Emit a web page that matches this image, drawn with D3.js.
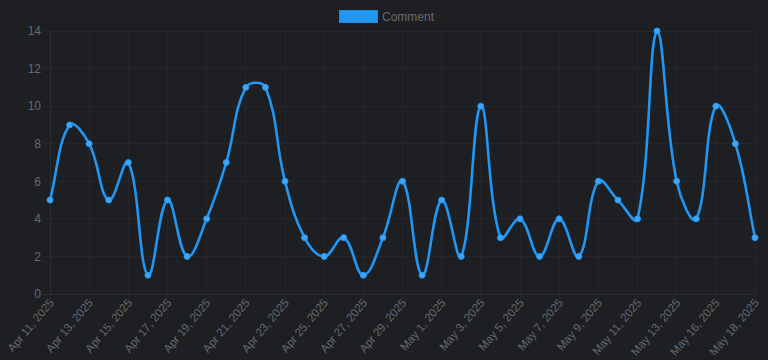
<!DOCTYPE html>
<html>
<head>
<meta charset="utf-8">
<script src="https://cdn.jsdelivr.net/npm/d3@7"></script>
<style>
html,body{margin:0;padding:0;background:#1d1f22;}
svg{display:block;}
text{font-family:"Liberation Sans",Arial,Helvetica,sans-serif;}
</style>
</head>
<body>
<svg id="chart" width="768" height="360"></svg>
<script>
const categories = ["Apr 11, 2025","Apr 12, 2025","Apr 13, 2025","Apr 14, 2025","Apr 15, 2025","Apr 16, 2025","Apr 17, 2025","Apr 18, 2025","Apr 19, 2025","Apr 20, 2025","Apr 21, 2025","Apr 22, 2025","Apr 23, 2025","Apr 24, 2025","Apr 25, 2025","Apr 26, 2025","Apr 27, 2025","Apr 28, 2025","Apr 29, 2025","Apr 30, 2025","May 1, 2025","May 2, 2025","May 3, 2025","May 4, 2025","May 5, 2025","May 6, 2025","May 7, 2025","May 8, 2025","May 9, 2025","May 10, 2025","May 11, 2025","May 12, 2025","May 13, 2025","May 14, 2025","May 16, 2025","May 17, 2025","May 18, 2025"];
const commentValues = [5,9,8,5,7,1,5,2,4,7,11,11,6,3,2,3,1,3,6,1,5,2,10,3,4,2,4,2,6,5,4,14,6,4,10,8,3];
const yTicks = [0,2,4,6,8,10,12,14];
const seriesName = "Comment";

const svg = d3.select("#chart");
const W = 768, H = 360;
const m = {left:50, right:13, top:31, bottom:66};
const x = d3.scalePoint().domain(categories).range([m.left, W - m.right]);
const y = d3.scaleLinear().domain([0,14]).range([H - m.bottom, m.top]);

const gridColor = "#24262a";
const textColor = "#666a70";
const lineColor = "#2196f3";

const shownCats = categories.filter((c,i) => i % 2 === 0);

// grid
const g = svg.append("g");
g.selectAll(".hg").data(yTicks).enter().append("line")
  .attr("x1", m.left - 8).attr("x2", W - m.right)
  .attr("y1", d => y(d)).attr("y2", d => y(d))
  .attr("stroke", d => d === 0 ? "#2a2d31" : gridColor).attr("stroke-width", 1)
  .attr("shape-rendering","crispEdges");
g.selectAll(".vg").data(shownCats).enter().append("line")
  .attr("x1", d => x(d)).attr("x2", d => x(d))
  .attr("y1", m.top).attr("y2", H - m.bottom + 8)
  .attr("stroke", (d,i) => i === 0 ? "#2a2d31" : gridColor).attr("stroke-width", 1)
  .attr("shape-rendering","crispEdges");

// y axis labels
const yAxis = d3.axisLeft(y).tickValues(yTicks).tickSize(0).tickPadding(9);
const ya = svg.append("g").attr("transform", `translate(${m.left},0)`).call(yAxis);
ya.select(".domain").remove();
ya.selectAll("text").attr("fill", textColor).style("font-size","12px")
  .style("font-family",'"Liberation Sans",Arial,sans-serif');

// x axis labels
const xAxis = d3.axisBottom(x).tickValues(shownCats).tickSize(0).tickPadding(0);
const xa = svg.append("g").attr("transform", `translate(0,${H - m.bottom})`).call(xAxis);
xa.select(".domain").remove();
xa.selectAll("text").attr("fill", textColor).style("font-size","11.5px")
  .style("font-family",'"Liberation Sans",Arial,sans-serif')
  .attr("text-anchor","end").attr("dy", null).attr("y", 0)
  .attr("transform","translate(4,9) rotate(-50)");

// Chart.js style spline
const pts = commentValues.map((v,i) => ({x: x(categories[i]), y: y(v)}));
const t = 0.4;
const cps = pts.map((p,i) => {
  const prev = pts[i-1] || p, next = pts[i+1] || p;
  const d01 = Math.hypot(p.x-prev.x, p.y-prev.y);
  const d12 = Math.hypot(next.x-p.x, next.y-p.y);
  let s01 = d01/(d01+d12), s12 = d12/(d01+d12);
  s01 = isNaN(s01)?0:s01; s12 = isNaN(s12)?0:s12;
  const fa = t*s01, fb = t*s12;
  const clampY = v => Math.max(m.top, Math.min(H - m.bottom, v));
  return {
    px: p.x - fa*(next.x-prev.x), py: clampY(p.y - fa*(next.y-prev.y)),
    nx: p.x + fb*(next.x-prev.x), ny: clampY(p.y + fb*(next.y-prev.y))
  };
});
const path = d3.path();
path.moveTo(pts[0].x, pts[0].y);
for (let i = 1; i < pts.length; i++) {
  path.bezierCurveTo(cps[i-1].nx, cps[i-1].ny, cps[i].px, cps[i].py, pts[i].x, pts[i].y);
}
svg.append("path").attr("d", path.toString()).attr("fill","none")
  .attr("stroke", lineColor).attr("stroke-width", 2.6).attr("stroke-linejoin","round");

svg.selectAll(".pt").data(commentValues).enter().append("circle")
  .attr("cx", (d,i) => x(categories[i])).attr("cy", d => y(d)).attr("r", 3)
  .attr("fill", "#42a5f5").attr("stroke", lineColor).attr("stroke-width", 1);

// legend
const lg = svg.append("g");
lg.append("rect").attr("x", 339.5).attr("y", 10.5).attr("width", 38).attr("height", 12)
  .attr("fill", lineColor).attr("stroke", "#1e88e5").attr("stroke-width", 1);
lg.append("text").attr("x", 382).attr("y", 20.5).attr("fill", textColor)
  .style("font-size","12px").text(seriesName);
</script>
</body>
</html>
